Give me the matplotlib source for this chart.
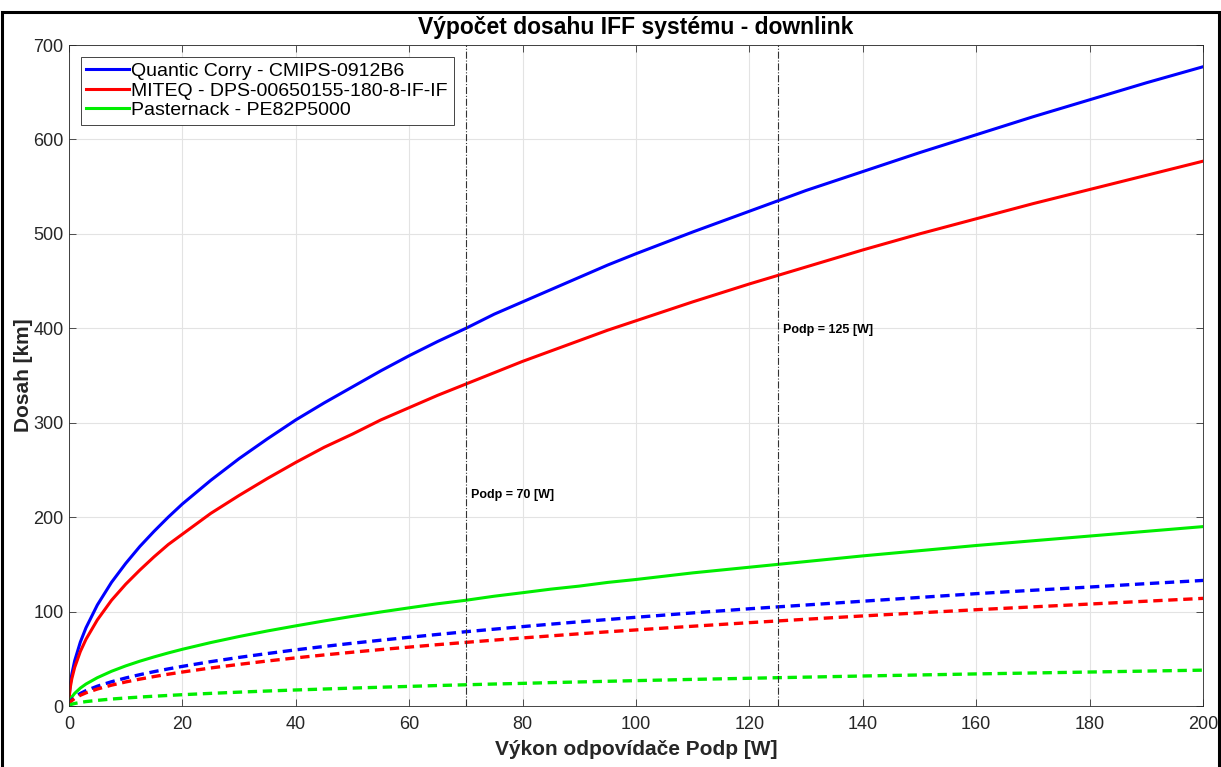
import matplotlib
matplotlib.use('Agg')
import matplotlib.pyplot as plt
from matplotlib.patches import Rectangle

# power of the transponder [W]
power = [0, 0.1, 0.25, 0.5, 1, 2, 3, 5, 7.5, 10, 12.5, 15, 17.5, 20, 25, 30, 35, 40, 45,
         50, 55, 60, 65, 70, 75, 80, 85, 90, 95, 100,
         110, 120, 130, 140, 150, 160, 170, 180, 190, 200]

# range [km], solid curves
quantic = [0, 15.1, 23.9, 33.8, 47.9, 67.7, 82.9, 107, 131, 151, 169, 185, 200, 214, 239,
           262, 283, 303, 321, 338, 355, 371, 386, 400, 415, 428, 441, 454, 467, 479,
           502, 524, 546, 566, 586, 605, 624, 642, 660, 677]
miteq = [0, 12.9, 20.4, 28.9, 40.8, 57.7, 70.7, 91.2, 112, 129, 144, 158, 171, 182, 204,
         223, 241, 258, 274, 288, 303, 316, 329, 341, 353, 365, 376, 387, 398, 408,
         428, 447, 465, 483, 500, 516, 532, 547, 562, 577]
pasternack = [0, 4.2, 6.7, 9.5, 13.4, 19.0, 23.3, 30.0, 36.8, 42.5, 47.5, 52.0, 56.2, 60.1, 67.2,
              73.6, 79.5, 84.9, 90.1, 95.0, 99.6, 104, 108.3, 112, 116.3, 120, 123.8, 127, 130.9, 134,
              141, 147, 153, 159, 164.5, 170, 175, 180, 185, 190]

# range [km], dashed curves
quantic_d = [0, 3.0, 4.7, 6.6, 9.4, 13.3, 16.3, 21.0, 25.7, 29.7, 33.2, 36.4, 39.3, 42.0, 47.0,
             51.5, 55.6, 59.5, 63.1, 66.5, 69.7, 72.8, 75.8, 78.7, 81.4, 84.1, 86.7, 89.2, 91.6, 94.0,
             98.6, 103, 107, 111, 115, 119, 122.6, 126, 129.6, 133]
miteq_d = [0, 2.5, 4.0, 5.7, 8.06, 11.4, 14.0, 18.0, 22.1, 25.5, 28.5, 31.2, 33.7, 36.0, 40.3,
           44.1, 47.7, 51.0, 54.1, 57.0, 59.8, 62.4, 65.0, 67.4, 69.8, 72.1, 74.3, 76.5, 78.6, 80.6,
           84.5, 88.3, 91.9, 95.4, 98.7, 102, 105, 108, 111, 114]
pasternack_d = [0, 0.85, 1.3, 1.9, 2.7, 3.8, 4.7, 6.0, 7.4, 8.5, 9.5, 10.4, 11.2, 12.0, 13.4,
                14.7, 15.9, 17.0, 18.0, 19.0, 19.9, 20.8, 21.7, 22.5, 23.3, 24.0, 24.8, 25.5, 26.2, 26.9,
                28.2, 29.4, 30.6, 31.8, 32.9, 34.0, 35.0, 36.0, 37.0, 38.0]

labels = ['Quantic Corry - CMIPS-0912B6', 'MITEQ - DPS-00650155-180-8-IF-IF', 'Pasternack - PE82P5000']
colors = ['#0000ff', '#ff0000', '#00ee00']
markers_x = [70, 125]
marker_text = ['Podp = 70 [W]', 'Podp = 125 [W]']
marker_text_y = [220, 395]

plt.rcParams['font.family'] = ['Liberation Sans', 'DejaVu Sans']

fig = plt.figure(figsize=(12.21, 7.67), dpi=100)
ax = fig.add_axes([0.0565, 0.0795, 0.9288, 0.8618])

for y, c, lab in zip([quantic, miteq, pasternack], colors, labels):
    ax.plot(power, y, color=c, lw=2.2, label=lab)
for y, c in zip([quantic_d, miteq_d, pasternack_d], colors):
    ax.plot(power, y, color=c, lw=2.4, ls=(0, (2.8, 1.7)))

for xv, t, ty in zip(markers_x, marker_text, marker_text_y):
    ax.axvline(xv, color='#333333', lw=0.8, ls='-.')
    ax.text(xv + 0.9, ty, t, fontsize=9, fontweight='bold')

ax.set_xlim(0, 200)
ax.set_ylim(0, 700)
ax.set_xticks(range(0, 201, 20))
ax.set_yticks(range(0, 701, 100))
ax.grid(True, color='#e3e3e3', lw=0.8)
ax.tick_params(direction='in', top=True, right=True, length=5, width=0.6, color='#333333',
               labelsize=13, labelcolor='#262626')
ax.tick_params(axis='x', pad=7)
ax.tick_params(axis='y', pad=4)
for s in ax.spines.values():
    s.set_color('#262626')
    s.set_linewidth(0.6)

ax.set_xlabel('Výkon odpovídače Podp [W]', fontsize=15, fontweight='bold', labelpad=5,
              color='#262626')
ax.set_ylabel('Dosah [km]', fontsize=15, fontweight='bold', labelpad=0, color='#262626')
ax.set_title('Výpočet dosahu IFF systému - downlink', fontsize=16.5, fontweight='bold', pad=8)

leg = ax.legend(loc='upper left', fontsize=14, handlelength=2.2, handletextpad=0.1,
                borderaxespad=0.6, labelspacing=0.1, fancybox=False, framealpha=1,
                borderpad=0.3)
leg.get_frame().set_edgecolor('#262626')
leg.get_frame().set_linewidth(0.6)

# black frame around the whole picture
fig.patches.append(Rectangle((0.002, -0.01), 0.996, 0.995, transform=fig.transFigure,
                             fill=False, edgecolor='black', lw=2.2))

fig.savefig('out.png', dpi=100)
